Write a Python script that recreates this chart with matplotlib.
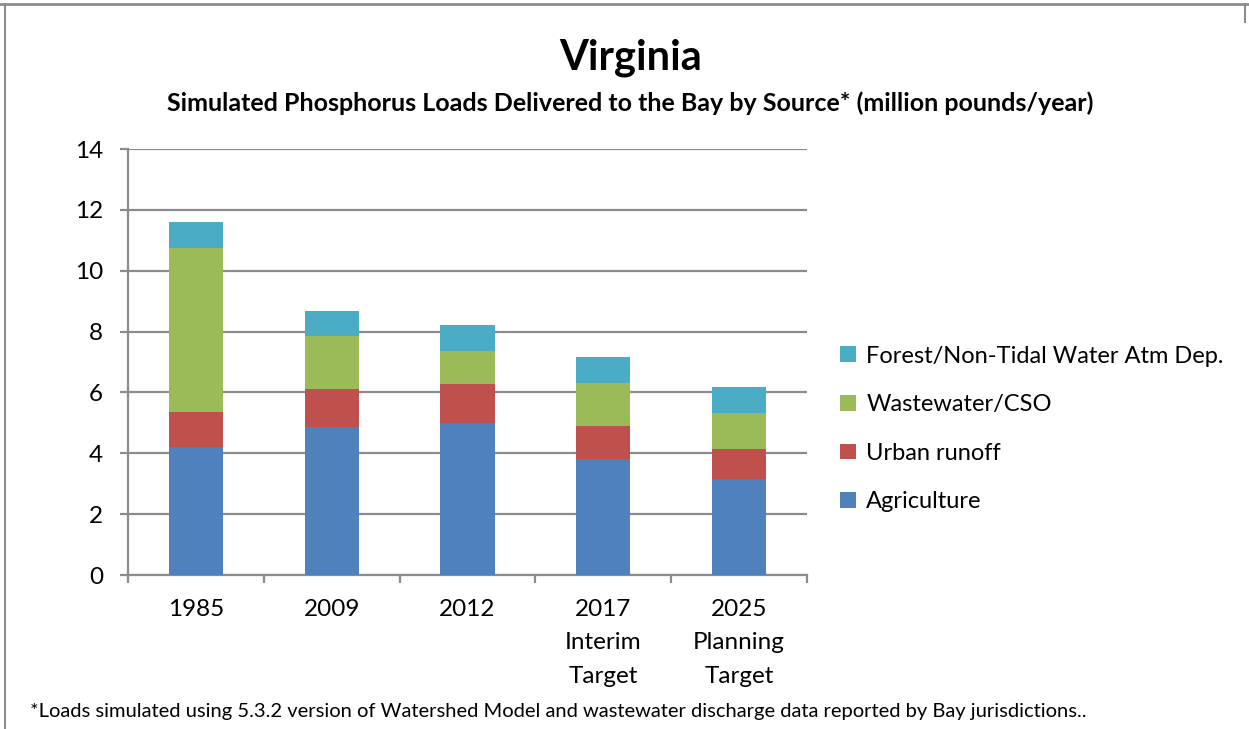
import matplotlib
matplotlib.use("Agg")
import matplotlib.pyplot as plt
from matplotlib.lines import Line2D
import numpy as np

categories = ["1985", "2009", "2012", "2017\nInterim\nTarget", "2025\nPlanning\nTarget"]
agriculture = [4.2, 4.85, 5.0, 3.8, 3.15]
urban = [1.15, 1.25, 1.27, 1.1, 1.0]
wastewater = [5.4, 1.75, 1.08, 1.4, 1.17]
forest = [0.85, 0.83, 0.85, 0.88, 0.85]
series_names = ["Agriculture", "Urban runoff", "Wastewater/CSO", "Forest/Non-Tidal Water Atm Dep."]
colors = ["#4F81BD", "#C0504D", "#9BBB59", "#4BACC6"]
yticks = [0, 2, 4, 6, 8, 10, 12, 14]

plt.rcParams['font.family'] = ['Lato', 'DejaVu Sans']

fig = plt.figure(figsize=(12.49, 7.29), dpi=100)
ax = fig.add_axes([128/1249, 1-575/729, 679/1249, 426/729])

x = np.arange(len(categories))
bottom = np.zeros(len(categories))
handles = []
for vals, name, c in zip([agriculture, urban, wastewater, forest], series_names, colors):
    b = ax.bar(x, vals, width=0.4, bottom=bottom, color=c, label=name, zorder=3)
    bottom += np.array(vals)
    handles.append(b)

ax.set_xlim(-0.5, len(categories) - 0.5)
ax.set_ylim(0, 14)
ax.set_yticks(yticks)
ax.set_yticklabels([str(t) for t in yticks], fontsize=17.5)
ax.yaxis.grid(True, color="#8c8c8c", linewidth=1.6, zorder=0)
ax.set_axisbelow(True)
for s in ["top", "right"]:
    ax.spines[s].set_visible(False)
for s in ["left", "bottom"]:
    ax.spines[s].set_color("#8c8c8c")
    ax.spines[s].set_linewidth(1.6)
ax.tick_params(axis="y", length=6, color="#8c8c8c", width=1.6, pad=12)

# x ticks at category boundaries, labels at centers
ax.set_xticks(np.arange(-0.5, len(categories)), minor=False)
ax.set_xticklabels([""] * (len(categories) + 1))
ax.set_xticks(x, minor=True)
ax.set_xticklabels(categories, minor=True, fontsize=17.5, linespacing=1.75, va="top")
ax.tick_params(axis="x", which="major", length=6, color="#8c8c8c", width=1.6, direction="out")
ax.tick_params(axis="x", which="minor", length=0, pad=17)

leg = fig.legend(handles[::-1], series_names[::-1], loc="center left",
                 bbox_to_anchor=(819/1249, 1-429/729), frameon=False, fontsize=17,
                 handlelength=0.65, handleheight=0.65, handletextpad=0.45,
                 labelspacing=1.17)

fig.text(631/1249, 1-58/729, "Virginia", ha="center", va="center", fontsize=30, fontweight="bold")
fig.text(630/1249, 1-103/729, "Simulated Phosphorus Loads Delivered to the Bay by Source* (million pounds/year)",
         ha="center", va="center", fontsize=18, fontweight="bold")
fig.text(30/1249, 1-712/729,
         "*Loads simulated using 5.3.2 version of Watershed Model and wastewater discharge data reported by Bay jurisdictions..",
         ha="left", va="center", fontsize=14.5)

# frame lines
fig.add_artist(Line2D([0, 1], [1-4/729, 1-4/729], color="#8c8c8c", linewidth=2))
fig.add_artist(Line2D([5/1249, 5/1249], [0, 1-4/729], color="#8c8c8c", linewidth=1.5))
fig.add_artist(Line2D([1245/1249, 1245/1249], [1-4/729, 1-22/729], color="#8c8c8c", linewidth=1.5))

fig.savefig("out.png", dpi=100)
